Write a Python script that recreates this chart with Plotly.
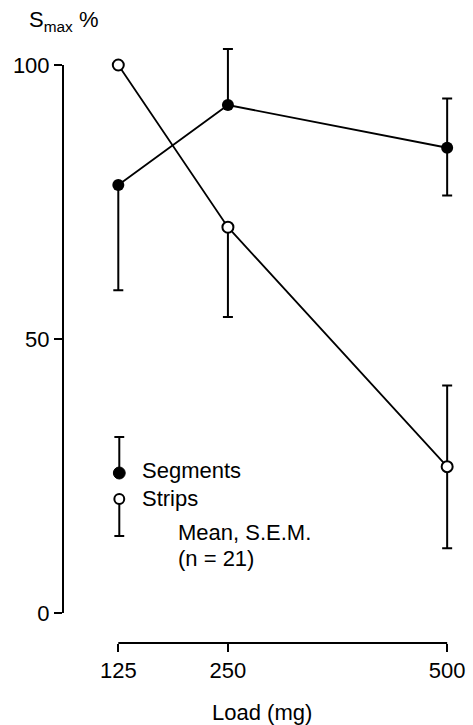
import plotly.graph_objects as go

# ---- data ----
loads = [125, 250, 500]
seg_mean = [78.1, 92.7, 84.9]
seg_err_plus = [0, 10.2, 9.0]
seg_err_minus = [19.2, 0, 8.7]
strip_mean = [100, 70.4, 26.7]
strip_err_plus = [0, 0, 14.8]
strip_err_minus = [0, 16.4, 14.9]
y_ticks = [0, 50, 100]
x_ticks = [125, 250, 500]

# ---- layout constants (pixels) ----
W, H = 473, 725
ML, MR, MT, MB = 63, 8, 40, 82
PW, PH = W - ML - MR, H - MT - MB
FONT = "Liberation Sans, Arial, Helvetica, sans-serif"
FS = 22


def px(x):
    return (x - ML) / PW


def py(y):
    return (H - MB - y) / PH


fig = go.Figure()

fig.add_trace(go.Scatter(
    x=loads, y=seg_mean, mode="lines+markers",
    line=dict(color="black", width=1.8),
    marker=dict(symbol="circle", size=12, color="black"),
    error_y=dict(type="data", symmetric=False, array=seg_err_plus,
                 arrayminus=seg_err_minus, color="black", thickness=2, width=5),
    showlegend=False, cliponaxis=False,
))
fig.add_trace(go.Scatter(
    x=loads, y=strip_mean, mode="lines+markers",
    line=dict(color="black", width=1.8),
    marker=dict(symbol="circle", size=11, color="white",
                line=dict(color="black", width=2)),
    error_y=dict(type="data", symmetric=False, array=strip_err_plus,
                 arrayminus=strip_err_minus, color="black", thickness=2, width=5),
    showlegend=False, cliponaxis=False,
))

shapes = [
    # y axis line (0..100)
    dict(type="line", xref="paper", yref="y", x0=0, x1=0, y0=0, y1=100,
         line=dict(color="black", width=2)),
    # x axis line (125..500)
    dict(type="line", xref="x", yref="paper", x0=125, x1=500, y0=0, y1=0,
         line=dict(color="black", width=2)),
]

# legend key
lx = 120
cap_top, filled_y, open_y, cap_bot = 437, 473, 499, 536
shapes += [
    dict(type="line", xref="paper", yref="paper", x0=px(lx), x1=px(lx),
         y0=py(cap_top), y1=py(filled_y), line=dict(color="black", width=2)),
    dict(type="line", xref="paper", yref="paper", x0=px(lx - 5), x1=px(lx + 5),
         y0=py(cap_top), y1=py(cap_top), line=dict(color="black", width=2)),
    dict(type="line", xref="paper", yref="paper", x0=px(lx), x1=px(lx),
         y0=py(open_y), y1=py(cap_bot), line=dict(color="black", width=2)),
    dict(type="line", xref="paper", yref="paper", x0=px(lx - 5), x1=px(lx + 5),
         y0=py(cap_bot), y1=py(cap_bot), line=dict(color="black", width=2)),
    dict(type="circle", xref="paper", yref="paper", x0=px(lx - 6), x1=px(lx + 6),
         y0=py(filled_y + 6), y1=py(filled_y - 6), fillcolor="black",
         line=dict(color="black", width=1)),
    dict(type="circle", xref="paper", yref="paper", x0=px(lx - 5), x1=px(lx + 5),
         y0=py(open_y + 5), y1=py(open_y - 5), fillcolor="white",
         line=dict(color="black", width=2)),
]

ann = [
    dict(text="S<sub>max</sub> %", x=px(27), y=py(21), xanchor="left", yanchor="middle"),
    dict(text="Segments", x=px(141), y=py(470), xanchor="left", yanchor="middle"),
    dict(text="Strips", x=px(141), y=py(498), xanchor="left", yanchor="middle"),
    dict(text="Mean, S.E.M.", x=px(177), y=py(532), xanchor="left", yanchor="middle"),
    dict(text="(n = 21)", x=px(177), y=py(558), xanchor="left", yanchor="middle"),
    dict(text="Load (mg)", x=px(264), y=py(712), xanchor="center", yanchor="middle"),
]
for a in ann:
    a.update(xref="paper", yref="paper", showarrow=False,
             font=dict(family=FONT, size=FS, color="black"))

# axis ranges so that 125->119px, 500->452px ; 0->613px, 100->65px
xs = (452 - 119) / (500 - 125)
ys = (613 - 65) / 100
x0 = 125 - (119 - ML) / xs
x1 = 500 + (W - MR - 452) / xs
y0 = -((H - MB) - 613) / ys
y1 = 100 + (65 - MT) / ys

fig.update_layout(
    width=W, height=H,
    margin=dict(l=ML, r=MR, t=MT, b=MB, pad=0),
    paper_bgcolor="white", plot_bgcolor="white",
    font=dict(family=FONT, size=FS, color="black"),
    shapes=shapes, annotations=ann,
    xaxis=dict(range=[x0, x1], tickvals=x_ticks, ticktext=[str(v) for v in x_ticks],
               showgrid=False, zeroline=False, showline=False,
               ticks="outside", ticklen=8, tickwidth=2, tickcolor="black",
               tickfont=dict(family=FONT, size=FS, color="black")),
    yaxis=dict(range=[y0, y1], tickvals=y_ticks, ticktext=[str(v) for v in y_ticks],
               showgrid=False, zeroline=False, showline=False,
               ticks="outside", ticklen=8, tickwidth=2, tickcolor="black",
               tickfont=dict(family=FONT, size=FS, color="black")),
)

fig.write_html("out.html")
